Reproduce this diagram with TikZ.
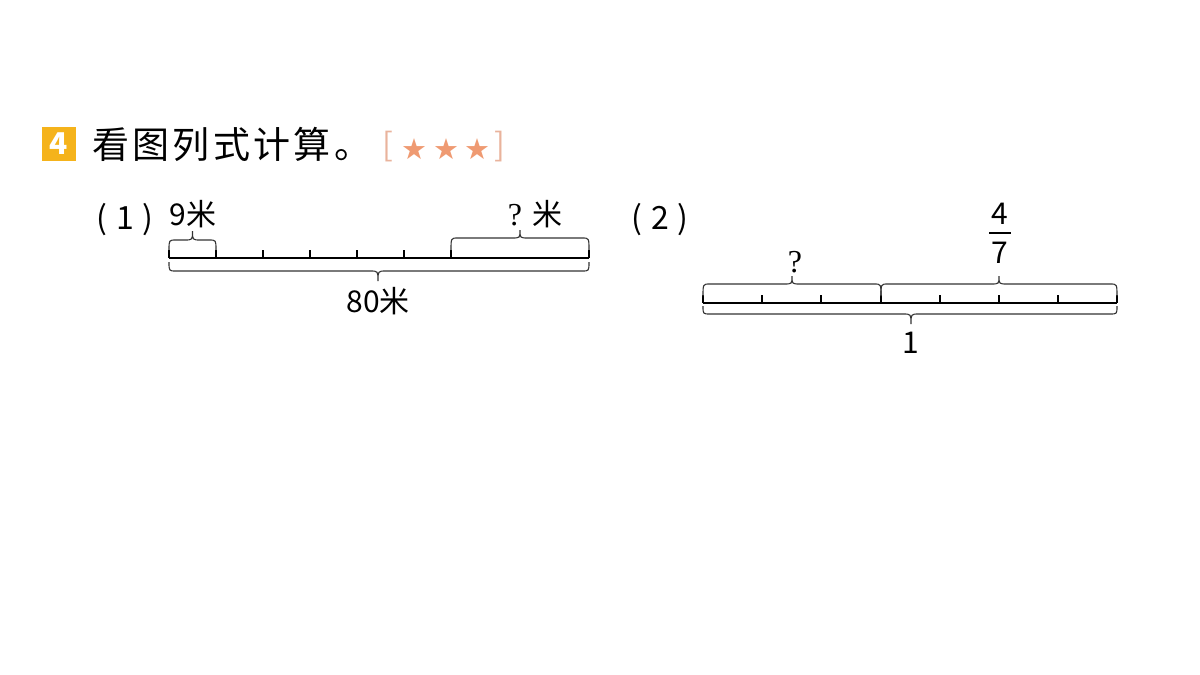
\documentclass[tikz,border=0pt]{standalone}
\usepackage{fontspec}
\setmainfont{Noto Sans CJK SC}
\newfontfamily\djv{DejaVu Sans}
\newfontfamily\qfont{Liberation Serif}
\newfontfamily\titlefont[LetterSpace=9]{Noto Sans CJK SC}
\definecolor{boxyellow}{HTML}{F5B31B}
\definecolor{starcol}{HTML}{EF9A72}
\definecolor{brcol}{HTML}{E9B39C}
\definecolor{bracecol}{HTML}{333333}
% #1 x-left, #2 x-right, #3 y-end, #4 y-flat, #5 y-tip, #6 x-tip
\newcommand{\mybrace}[6]{%
  \draw[bracegray] (#1,#3) .. controls (#1,#4) .. (#1+7,#4) -- (#6-8,#4)
    .. controls (#6,#4) .. (#6,#5) .. controls (#6,#4) .. (#6+8,#4)
    -- (#2-7,#4) .. controls (#2,#4) .. (#2,#3);}
\begin{document}
\begin{tikzpicture}[x=1pt,y=-1pt,
  bracegray/.style={draw=bracecol, line width=1.1pt},
  axis/.style={draw=black, line width=1.3pt},
  tick/.style={draw=black, line width=1.1pt},
  lbl/.style={font=\fontsize{30}{32}\selectfont, inner sep=0pt},
  qmark/.style={font=\qfont\fontsize{32}{34}\selectfont, inner sep=0pt},
  paren/.style={font=\fontsize{32}{34}\selectfont, inner sep=0pt}]
\useasboundingbox (0,0) rectangle (1200,675);
% heading
\node[fill=boxyellow, minimum size=34pt, inner sep=0pt, text=white,
  font=\fontsize{30}{30}\selectfont\bfseries] (num) at (59,144) {4};
\node[anchor=west, inner sep=0pt, font=\titlefont\fontsize{37}{39}\selectfont] (title) at (92,144) {看图列式计算。};
\node[inner sep=0pt, text=brcol, font=\fontsize{32}{34}\selectfont] (lb) at (388,147) {[};
\node[inner sep=0pt, text=starcol, font=\djv\fontsize{29}{30}\selectfont] (s1) at (414,149) {★};
\node[inner sep=0pt, text=starcol, font=\djv\fontsize{29}{30}\selectfont] (s2) at (446,149) {★};
\node[inner sep=0pt, text=starcol, font=\djv\fontsize{29}{30}\selectfont] (s3) at (477,149) {★};
\node[inner sep=0pt, text=brcol, font=\fontsize{32}{34}\selectfont] (rb) at (500,147) {]};
% (1)
\node[paren] (p1) at (125,220) {(\;1\;)};
\coordinate (a0) at (169,258);
\coordinate (a7) at (589,258);
\draw[axis] (a0) -- (a7);
\foreach \x in {169,216,263,310,357,404,451,589} \draw[tick] (\x,258) -- (\x,250);
\mybrace{169}{216}{250}{240}{231}{192.5}
\mybrace{451}{589}{250}{238}{230}{520}
\mybrace{169}{589}{262}{271}{281}{378}
\node[lbl] (l9) at (193,214) {9米};
\node[qmark] (q1) at (515,215) {?};
\node[lbl] (m1) at (547,214) {米};
\node[lbl] (l80) at (378,301) {80米};
% (2)
\node[paren] (p2) at (660,220) {(\;2\;)};
\draw[axis] (703,303) -- (1117,303);
\foreach \x in {703,762,821,881,940,999,1058,1117} \draw[tick] (\x,303) -- (\x,295);
\mybrace{703}{881}{296}{284}{276}{792}
\mybrace{881}{1117}{296}{284}{276}{999}
\mybrace{703}{1117}{306}{314}{324}{911}
\node[qmark] (q2) at (795,262) {?};
\node[lbl] (f4) at (1000,214) {4};
\draw[line width=1.1pt] (989,233) -- (1011,233);
\node[lbl] (f7) at (1000,253) {7};
\node[lbl] (one) at (911,343) {1};
\end{tikzpicture}
\end{document}
